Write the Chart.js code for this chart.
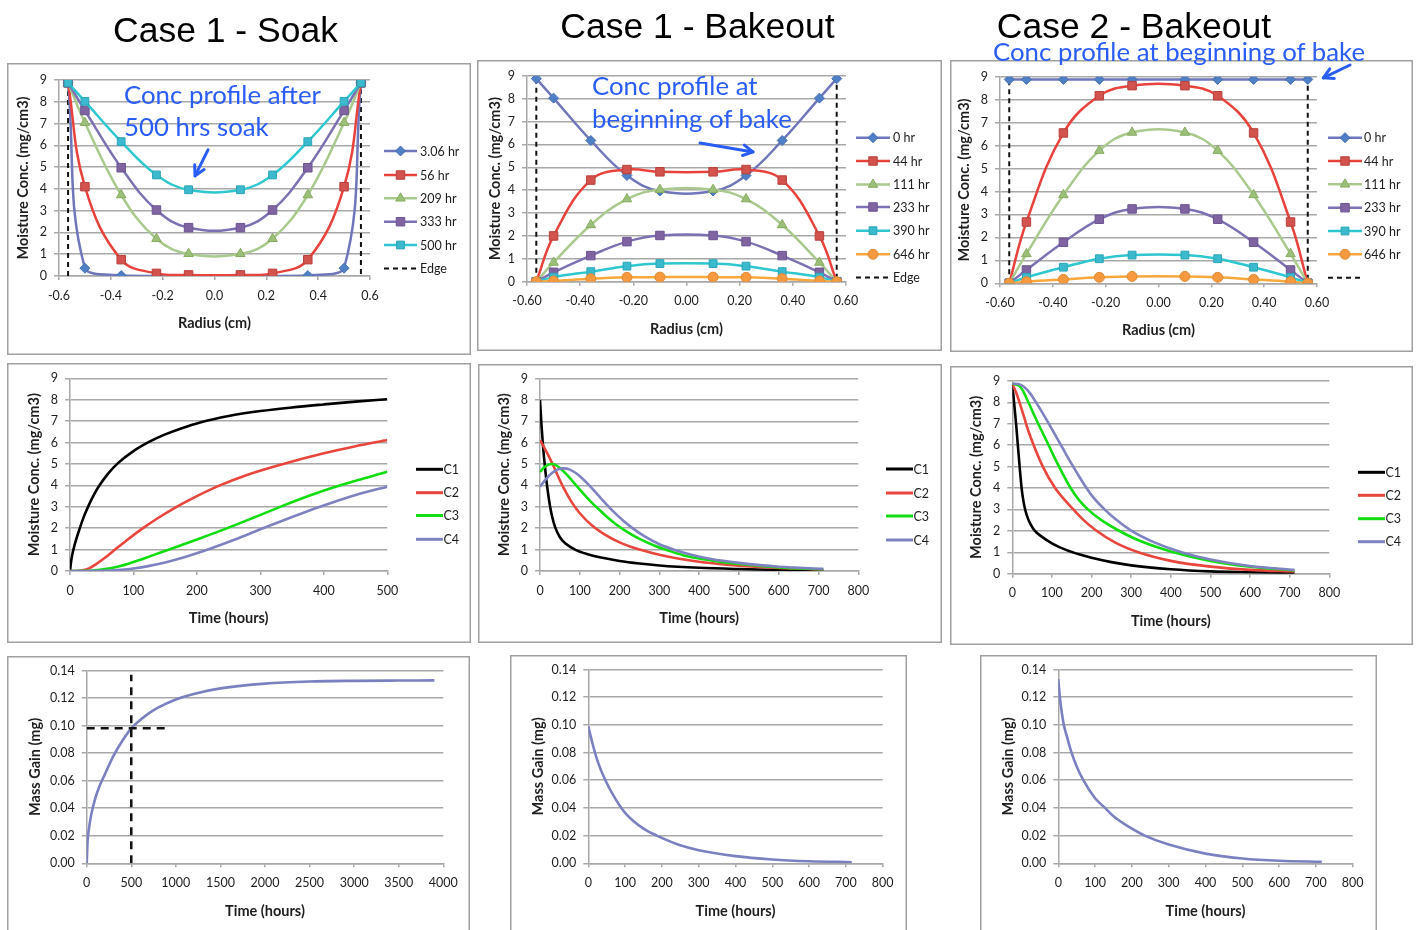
<!DOCTYPE html>
<html>
<head>
<meta charset="utf-8">
<script src="https://cdn.jsdelivr.net/npm/chart.js@4.4.1/dist/chart.umd.min.js"></script>
<style>
  html, body { margin: 0; padding: 0; background: #fff; width: 1417px; height: 930px; overflow: hidden; position: relative; }
  canvas { position: absolute; }
  svg.overlay { position: absolute; left: 0; top: 0; z-index: 5; pointer-events: none; }
</style>
</head>
<body>
<div id="panels"></div>
<svg class="overlay" width="1417" height="930">
  <g font-family="'Liberation Sans', Arial, sans-serif" font-size="35.5" fill="#000" text-anchor="middle">
    <text x="225.5" y="41.5">Case 1 - Soak</text>
    <text x="697.5" y="37.5">Case 1 - Bakeout</text>
    <text x="1134" y="37.5">Case 2 - Bakeout</text>
  </g>
  <g font-family="Lato, 'Open Sans', sans-serif" font-size="25.8" fill="#2a5cf6">
    <text x="124" y="103.5">Conc profile after</text>
    <text x="124" y="136">500 hrs soak</text>
    <text x="592" y="95">Conc profile at</text>
    <text x="592" y="128">beginning of bake</text>
    <text x="993" y="61">Conc profile at beginning of bake</text>
  </g>
</svg>
<script>
// ---------- radial profiles (moisture conc. vs radius) ----------
const RADIUS_NODES = [-0.565, -0.5, -0.36, -0.224, -0.1, 0.1, 0.224, 0.36, 0.5, 0.565];
const EDGE_RADIUS = 0.565;
const EDGE_TOP = 9;

const SOAK_LABELS = ['3.06 hr', '56 hr', '209 hr', '333 hr', '500 hr'];
const soak_3_06 = [8.87, 0.36, 0.02, 0.0, 0.0, 0.0, 0.0, 0.02, 0.36, 8.87];
const soak_56   = [8.87, 4.10, 0.75, 0.12, 0.05, 0.05, 0.12, 0.75, 4.10, 8.87];
const soak_209  = [8.87, 7.04, 3.72, 1.71, 1.02, 1.02, 1.71, 3.72, 7.04, 8.87];
const soak_333  = [8.87, 7.60, 4.97, 3.03, 2.22, 2.22, 3.03, 4.97, 7.60, 8.87];
const soak_500  = [8.87, 8.02, 6.17, 4.64, 3.96, 3.96, 4.64, 6.17, 8.02, 8.87];

const BAKE_LABELS = ['0 hr', '44 hr', '111 hr', '233 hr', '390 hr', '646 hr'];
const bake1_0   = [8.87, 8.02, 6.17, 4.64, 3.96, 3.96, 4.64, 6.17, 8.02, 8.87];
const bake1_44  = [0, 2.00, 4.44, 4.90, 4.80, 4.80, 4.90, 4.44, 2.00, 0];
const bake1_111 = [0, 0.84, 2.48, 3.61, 4.02, 4.02, 3.61, 2.48, 0.84, 0];
const bake1_233 = [0, 0.41, 1.14, 1.75, 2.02, 2.02, 1.75, 1.14, 0.41, 0];
const bake1_390 = [0, 0.20, 0.44, 0.68, 0.79, 0.79, 0.68, 0.44, 0.20, 0];
const bake1_646 = [0, 0.03, 0.13, 0.19, 0.20, 0.20, 0.19, 0.13, 0.03, 0];

const bake2_0   = [8.88, 8.88, 8.88, 8.88, 8.88, 8.88, 8.88, 8.88, 8.88, 8.88];
const bake2_44  = [0, 2.67, 6.55, 8.17, 8.61, 8.61, 8.17, 6.55, 2.67, 0];
const bake2_111 = [0, 1.28, 3.85, 5.78, 6.57, 6.57, 5.78, 3.85, 1.28, 0];
const bake2_233 = [0, 0.58, 1.79, 2.79, 3.24, 3.24, 2.79, 1.79, 0.58, 0];
const bake2_390 = [0, 0.26, 0.70, 1.07, 1.23, 1.23, 1.07, 0.70, 0.26, 0];
const bake2_646 = [0, 0.07, 0.17, 0.26, 0.30, 0.30, 0.26, 0.17, 0.07, 0];

// ---------- conc. histories at C1..C4 ----------
const NODE_LABELS = ['C1', 'C2', 'C3', 'C4'];
const soakC1_t = [0, 2, 5, 10, 16, 22, 30, 38, 46, 60, 76, 100, 126, 150, 175, 205, 250, 300, 350, 400, 450, 500];
const soakC1   = [0, 0.5, 0.95, 1.5, 2.05, 2.55, 3.1, 3.58, 3.98, 4.55, 5.05, 5.6, 6.05, 6.38, 6.66, 6.94, 7.24, 7.47, 7.64, 7.78, 7.91, 8.02];
const soakC2_t = [0, 10, 20, 30, 40, 55, 71, 90, 115, 140, 168, 200, 236, 280, 336, 400, 450, 500];
const soakC2   = [0, 0, 0.03, 0.12, 0.3, 0.62, 1.0, 1.45, 2.0, 2.5, 3.0, 3.5, 4.0, 4.5, 5.0, 5.5, 5.83, 6.12];
const soakC3_t = [0, 25, 50, 75, 100, 130, 163, 200, 252, 290, 333, 380, 431, 500];
const soakC3   = [0, 0.005, 0.07, 0.2, 0.42, 0.73, 1.07, 1.47, 2.05, 2.5, 3.02, 3.55, 4.05, 4.63];
const soakC4_t = [0, 50, 75, 100, 125, 150, 180, 215, 260, 302, 350, 394, 450, 500];
const soakC4   = [0, 0.01, 0.04, 0.12, 0.24, 0.4, 0.64, 0.98, 1.47, 1.97, 2.52, 3.0, 3.55, 3.94];

const bake1C1_t = [0, 4, 8, 12.6, 18, 25, 31, 38, 50, 65, 88, 120, 150, 200, 250, 300, 400, 500, 600, 712];
const bake1C1   = [8.0, 6.75, 5.75, 4.85, 3.95, 3.05, 2.5, 2.05, 1.58, 1.27, 1.0, 0.78, 0.64, 0.47, 0.35, 0.26, 0.15, 0.09, 0.05, 0.03];
const bake1C2_t = [0, 10, 20, 35, 45, 60, 80, 100, 130, 160, 200, 250, 300, 350, 400, 450, 500, 600, 712];
const bake1C2   = [6.12, 5.79, 5.44, 4.86, 4.44, 3.86, 3.21, 2.70, 2.14, 1.74, 1.34, 1.0, 0.76, 0.57, 0.43, 0.33, 0.25, 0.14, 0.07];
const bake1C3_t = [0, 10, 20, 30, 40, 50, 65, 80, 92, 110, 130, 147, 170, 190, 213, 250, 290, 322, 360, 400, 450, 500, 600, 712];
const bake1C3   = [4.63, 4.84, 4.96, 5.0, 4.95, 4.82, 4.55, 4.24, 3.98, 3.6, 3.2, 2.9, 2.5, 2.2, 1.9, 1.5, 1.17, 0.96, 0.74, 0.58, 0.44, 0.33, 0.17, 0.08];
const bake1C4_t = [0, 15, 30, 45, 60, 75, 90, 105, 125, 145, 167, 190, 210, 230, 260, 300, 339, 380, 430, 500, 600, 712];
const bake1C4   = [3.94, 4.3, 4.58, 4.75, 4.8, 4.74, 4.58, 4.35, 3.98, 3.57, 3.12, 2.68, 2.34, 2.04, 1.65, 1.25, 0.98, 0.76, 0.56, 0.38, 0.2, 0.1];

const bake2C1_t = [0, 5, 10, 18.5, 23.5, 28, 33, 40, 48, 57, 75, 100, 137, 175, 200, 250, 300, 400, 500, 600, 712];
const bake2C1   = [8.87, 7.9, 6.9, 5.0, 4.0, 3.4, 2.95, 2.55, 2.25, 2.0, 1.72, 1.42, 1.1, 0.87, 0.74, 0.54, 0.39, 0.21, 0.11, 0.07, 0.04];
const bake2C2_t = [0, 10, 20, 30, 40, 55, 77, 108, 154, 180, 209, 260, 318, 400, 500, 600, 712];
const bake2C2   = [8.87, 8.45, 7.9, 7.3, 6.7, 5.95, 5.0, 4.0, 3.0, 2.5, 2.05, 1.45, 1.0, 0.6, 0.33, 0.18, 0.1];
const bake2C3_t = [0, 15, 25, 40, 53, 66, 80, 93, 105, 118, 132, 147, 168, 192, 225, 267, 320, 402, 500, 600, 712];
const bake2C3   = [8.87, 8.8, 8.6, 8.03, 7.5, 6.98, 6.45, 5.95, 5.48, 5.0, 4.5, 4.0, 3.45, 2.98, 2.5, 2.03, 1.55, 1.03, 0.6, 0.33, 0.15];
const bake2C4_t = [0, 15, 30, 45, 60, 75, 95, 120, 135, 150, 166, 183, 205, 234, 265, 301, 360, 427, 500, 600, 712];
const bake2C4   = [8.87, 8.86, 8.72, 8.42, 8.0, 7.55, 6.92, 6.1, 5.6, 5.12, 4.62, 4.12, 3.55, 2.98, 2.48, 2.0, 1.45, 1.0, 0.66, 0.36, 0.18];

// ---------- mass gain ----------
const massSoak_t = [0, 10, 25, 50, 100, 150, 200, 300, 400, 500, 600, 700, 800, 1000, 1200, 1500, 2000, 2500, 3000, 3500, 3900];
const massSoak   = [0, 0.016, 0.025, 0.035, 0.048, 0.057, 0.064, 0.078, 0.089, 0.098, 0.104, 0.109, 0.113, 0.119, 0.123, 0.127, 0.1305, 0.132, 0.1325, 0.1327, 0.1328];
const MARK_TIME = 500;
const MARK_GAIN = 0.098;
const MARK_TIME_END = 900;
const MARK_GAIN_TOP = 0.137;
const massBake1_t = [0, 10, 25, 50, 75, 100, 150, 186, 250, 300, 400, 500, 600, 716];
const massBake1   = [0.099, 0.088, 0.074, 0.058, 0.046, 0.0365, 0.025, 0.02, 0.013, 0.0095, 0.0052, 0.0028, 0.0015, 0.0008];
const massBake2_t = [0, 5, 10, 15, 25, 36, 50, 68, 100, 127, 150, 200, 235, 300, 400, 500, 600, 716];
const massBake2   = [0.133, 0.118, 0.108, 0.1, 0.09, 0.08, 0.07, 0.06, 0.047, 0.04, 0.034, 0.025, 0.02, 0.0135, 0.007, 0.0035, 0.0018, 0.0011];

// ---------- styling ----------
const FONT = "Lato, 'Open Sans', sans-serif";
const GRID = '#a8a8a8';
const TXT = '#1e1e1e';
const FRAME = '#a0a0a0';

const PROFILE_STYLES = [
  { line: '#6f76b9', fill: '#4f80c6', edge: '#4870b2', shape: 'rectRot', r: 5 },
  { line: '#e8423c', fill: '#d2524d', edge: '#b8413d', shape: 'rect', r: 6 },
  { line: '#a9c98d', fill: '#9cc079', edge: '#87ab5f', shape: 'triangle', r: 5.5 },
  { line: '#7d71b3', fill: '#8064a2', edge: '#6b5592', shape: 'rect', r: 6 },
  { line: '#2ec6cf', fill: '#3bbacd', edge: '#2aa5b8', shape: 'rect', r: 5.5 },
  { line: '#f8a83a', fill: '#f7993f', edge: '#e08a35', shape: 'circle', r: 5 }
];
const NODE_COLORS = ['#000000', '#e8453c', '#11dd11', '#7f82c0'];
const MASS_COLOR = '#7b80c0';

function pts(xs, ys) { return xs.map((x, i) => ({ x: x, y: ys[i] })); }
function fmt(dec) {
  return function (v) { if (Math.abs(v) < 1e-9) v = 0; return Number(v).toFixed(dec); };
}

function profileSet(labels, series) {
  const n = series.length;
  return series.map((vals, i) => {
    const st = PROFILE_STYLES[i];
    return {
      label: labels[i], data: pts(RADIUS_NODES, vals),
      borderColor: st.line, borderWidth: 2.5, tension: 0.4,
      pointStyle: st.shape, pointRadius: st.r,
      pointBackgroundColor: st.fill, pointBorderColor: st.edge, pointBorderWidth: 1,
      order: n - i + 1
    };
  });
}
function edgeSet(label) {
  return {
    label: label,
    data: [{ x: -EDGE_RADIUS, y: 0 }, { x: -EDGE_RADIUS, y: EDGE_TOP }, { x: 0, y: null },
           { x: EDGE_RADIUS, y: EDGE_TOP }, { x: EDGE_RADIUS, y: 0 }],
    borderColor: '#111', borderWidth: 2, borderDash: [5, 4], pointRadius: 0, tension: 0,
    spanGaps: false, order: 20
  };
}
function nodeSets(series) {
  return series.map((s, i) => ({
    label: NODE_LABELS[i], data: pts(s[0], s[1]),
    borderColor: NODE_COLORS[i], borderWidth: 2.6, pointRadius: 0,
    cubicInterpolationMode: 'monotone', order: 10 - i
  }));
}
function massSet(ts, vs) {
  return { label: '', legend: false, data: pts(ts, vs), borderColor: MASS_COLOR, borderWidth: 2.6,
           pointRadius: 0, cubicInterpolationMode: 'monotone', order: 1 };
}

// marker drawing for the legend keys (same geometry as the library's point styles)
function drawMarker(ctx, style, x, y, r, fill, stroke, bw) {
  ctx.save();
  ctx.beginPath();
  if (style === 'circle') {
    ctx.arc(x, y, r, 0, Math.PI * 2);
  } else if (style === 'rect') {
    const s = r * Math.SQRT1_2;
    ctx.rect(x - s, y - s, 2 * s, 2 * s);
  } else if (style === 'rectRot') {
    ctx.moveTo(x - r, y); ctx.lineTo(x, y - r); ctx.lineTo(x + r, y); ctx.lineTo(x, y + r); ctx.closePath();
  } else if (style === 'triangle') {
    let a = 0;
    ctx.moveTo(x + Math.sin(a) * r, y - Math.cos(a) * r);
    a += Math.PI * 2 / 3; ctx.lineTo(x + Math.sin(a) * r, y - Math.cos(a) * r);
    a += Math.PI * 2 / 3; ctx.lineTo(x + Math.sin(a) * r, y - Math.cos(a) * r);
    ctx.closePath();
  }
  ctx.fillStyle = fill; ctx.fill();
  if (bw) { ctx.lineWidth = bw; ctx.strokeStyle = stroke; ctx.stroke(); }
  ctx.restore();
}

const decoPlugin = {
  id: 'deco',
  afterDraw(chart, args, opts) {
    const ctx = chart.ctx;
    ctx.save();
    // panel frame
    ctx.strokeStyle = FRAME; ctx.lineWidth = 1.5;
    ctx.strokeRect(0.75, 0.75, chart.width - 1.5, chart.height - 1.5);
    // legend keys
    const lg = opts.legend;
    if (lg) {
      let row = 0;
      chart.data.datasets.forEach(ds => {
        if (ds.legend === false) return;
        const y = lg.ys[row++] - opts.oy;
        const x1 = lg.x1 - opts.ox, x2 = lg.x2 - opts.ox;
        ctx.save();
        ctx.strokeStyle = ds.borderColor; ctx.lineWidth = lg.lw || ds.borderWidth;
        ctx.setLineDash(ds.borderDash || []);
        ctx.beginPath(); ctx.moveTo(x1, y); ctx.lineTo(x2, y); ctx.stroke();
        ctx.restore();
        if (ds.pointRadius > 0) {
          drawMarker(ctx, ds.pointStyle, (x1 + x2) / 2, y, ds.pointRadius,
                     ds.pointBackgroundColor, ds.pointBorderColor, ds.pointBorderWidth);
        }
        if (ds.label) {
          ctx.fillStyle = TXT; ctx.font = '12.5px ' + FONT; ctx.textBaseline = 'middle'; ctx.textAlign = 'left';
          ctx.fillText(ds.label, lg.tx - opts.ox, y + 0.5);
        }
      });
    }
    // pointer arrows, placed in data space
    (opts.arrows || []).forEach(a => {
      const xs = chart.scales.x, ys = chart.scales.y;
      const x0 = xs.getPixelForValue(a.from[0]), y0 = ys.getPixelForValue(a.from[1]);
      const x1 = xs.getPixelForValue(a.to[0]), y1 = ys.getPixelForValue(a.to[1]);
      const ang = Math.atan2(y1 - y0, x1 - x0), h = 11;
      ctx.strokeStyle = '#2a5cf6'; ctx.lineWidth = 3; ctx.lineCap = 'round'; ctx.lineJoin = 'round';
      ctx.beginPath(); ctx.moveTo(x0, y0); ctx.lineTo(x1, y1); ctx.stroke();
      ctx.beginPath();
      ctx.moveTo(x1 - h * Math.cos(ang - 0.5), y1 - h * Math.sin(ang - 0.5));
      ctx.lineTo(x1, y1);
      ctx.lineTo(x1 - h * Math.cos(ang + 0.5), y1 - h * Math.sin(ang + 0.5));
      ctx.stroke();
    });
    ctx.restore();
  }
};

function panel(p) {
  const [bl, bt, br, bb] = p.box;
  const [pl, pt, pr, pb] = p.plot;
  const W = br - bl, H = bb - bt;
  const cv = document.createElement('canvas');
  cv.width = Math.round(W); cv.height = Math.round(H);
  cv.style.left = bl + 'px'; cv.style.top = bt + 'px';
  document.getElementById('panels').appendChild(cv);
  const titleSize = 14.5, lh = titleSize * 1.2;
  const tickFont = { family: FONT, size: 12.5 };
  const titleFont = { family: FONT, size: titleSize, weight: 'bold' };
  new Chart(cv.getContext('2d'), {
    type: 'line',
    data: { datasets: p.datasets },
    options: {
      responsive: false, animation: false, devicePixelRatio: 1, events: [],
      layout: { padding: { left: 0, top: pt - bt, right: br - pr, bottom: 0 } },
      plugins: {
        legend: { display: false }, tooltip: { enabled: false },
        deco: { legend: p.legend, arrows: p.arrows, ox: bl, oy: bt }
      },
      scales: {
        x: {
          type: 'linear', position: 'bottom', min: p.x.min, max: p.x.max,
          ticks: { stepSize: p.x.step, autoSkip: false, maxRotation: 0, padding: 8, font: tickFont, color: TXT, callback: fmt(p.x.dec) },
          grid: { drawOnChartArea: false, drawTicks: true, tickLength: 4, tickColor: GRID, lineWidth: 1.5 },
          border: { display: true, color: GRID, width: 1.5 },
          title: { display: true, text: p.xTitle, font: titleFont, color: TXT,
                   padding: { top: 0, bottom: (bb - p.xTitleY) - lh / 2 } },
          afterFit: s => { s.height = bb - pb; }
        },
        y: {
          type: 'linear', position: 'left', min: p.y.min, max: p.y.max,
          ticks: { stepSize: p.y.step, padding: 7, font: tickFont, color: TXT, callback: fmt(p.y.dec) },
          grid: { color: GRID, lineWidth: 1.5, drawTicks: true, tickLength: 5, tickColor: GRID },
          border: { display: true, color: GRID, width: 1.5 },
          title: { display: true, text: p.yTitle, font: titleFont, color: TXT,
                   padding: { top: (p.yTitleX - bl) - lh / 2, bottom: 0 } },
          afterFit: s => { s.width = pl - bl; }
        }
      }
    },
    plugins: [decoPlugin]
  });
}

const CONC_TITLE = 'Moisture Conc. (mg/cm3)';
const MASS_TITLE = 'Mass Gain (mg)';
const RADIUS_TITLE = 'Radius (cm)';
const TIME_TITLE = 'Time (hours)';

// Row 1: radial profiles
panel({
  box: [7, 63, 471, 355], plot: [59, 80, 370, 276], xTitleY: 323, yTitleX: 23,
  xTitle: RADIUS_TITLE, yTitle: CONC_TITLE,
  x: { min: -0.6, max: 0.6, step: 0.2, dec: 1 }, y: { min: 0, max: 9, step: 1, dec: 0 },
  datasets: profileSet(SOAK_LABELS, [soak_3_06, soak_56, soak_209, soak_333, soak_500]).concat([edgeSet('Edge')]),
  legend: { x1: 384, x2: 417, tx: 420, ys: [151, 175, 198.3, 221.7, 245, 268.5] },
  arrows: [{ from: [-0.025, 5.79], to: [-0.075, 4.6] }]
});
panel({
  box: [477, 60, 942, 351], plot: [527, 75.7, 846, 281.7], xTitleY: 329, yTitleX: 495,
  xTitle: RADIUS_TITLE, yTitle: CONC_TITLE,
  x: { min: -0.6, max: 0.6, step: 0.2, dec: 2 }, y: { min: 0, max: 9, step: 1, dec: 0 },
  datasets: profileSet(BAKE_LABELS, [bake1_0, bake1_44, bake1_111, bake1_233, bake1_390, bake1_646]).concat([edgeSet('Edge')]),
  legend: { x1: 856, x2: 890, tx: 893, ys: [137.7, 161, 184.5, 207, 230.7, 254.3, 277.5] },
  arrows: [{ from: [0.051, 6.06], to: [0.25, 5.67] }]
});
panel({
  box: [950, 60, 1413, 352], plot: [1000, 76.7, 1317, 283.3], xTitleY: 330, yTitleX: 964.3,
  xTitle: RADIUS_TITLE, yTitle: CONC_TITLE,
  x: { min: -0.6, max: 0.6, step: 0.2, dec: 2 }, y: { min: 0, max: 9, step: 1, dec: 0 },
  datasets: profileSet(BAKE_LABELS, [bake2_0, bake2_44, bake2_111, bake2_233, bake2_390, bake2_646]).concat([edgeSet('')]),
  legend: { x1: 1328, x2: 1362, tx: 1364, ys: [137.7, 161, 184.3, 207.7, 231, 254.3, 277.7] },
  arrows: [{ from: [0.725, 9.51], to: [0.624, 8.95] }]
});

// Row 2: concentration histories
panel({
  box: [7, 363, 471, 643], plot: [70, 378.3, 387.3, 571], xTitleY: 618.7, yTitleX: 34.3,
  xTitle: TIME_TITLE, yTitle: CONC_TITLE,
  x: { min: 0, max: 500, step: 100, dec: 0 }, y: { min: 0, max: 9, step: 1, dec: 0 },
  datasets: nodeSets([[soakC1_t, soakC1], [soakC2_t, soakC2], [soakC3_t, soakC3], [soakC4_t, soakC4]]),
  legend: { x1: 416, x2: 443, tx: 443.5, lw: 3, ys: [469.3, 492.7, 515.5, 539.3] }
});
panel({
  box: [478, 364, 942, 643], plot: [540, 378.3, 858.3, 571], xTitleY: 618.7, yTitleX: 504.3,
  xTitle: TIME_TITLE, yTitle: CONC_TITLE,
  x: { min: 0, max: 800, step: 100, dec: 0 }, y: { min: 0, max: 9, step: 1, dec: 0 },
  datasets: nodeSets([[bake1C1_t, bake1C1], [bake1C2_t, bake1C2], [bake1C3_t, bake1C3], [bake1C4_t, bake1C4]]),
  legend: { x1: 886, x2: 913, tx: 913.5, lw: 3, ys: [469, 493, 516, 540] }
});
panel({
  box: [950, 366, 1413, 645], plot: [1012.3, 381, 1329.3, 573.7], xTitleY: 621.7, yTitleX: 976.7,
  xTitle: TIME_TITLE, yTitle: CONC_TITLE,
  x: { min: 0, max: 800, step: 100, dec: 0 }, y: { min: 0, max: 9, step: 1, dec: 0 },
  datasets: nodeSets([[bake2C1_t, bake2C1], [bake2C2_t, bake2C2], [bake2C3_t, bake2C3], [bake2C4_t, bake2C4]]),
  legend: { x1: 1358, x2: 1385, tx: 1385.5, lw: 3, ys: [472.3, 495.3, 518.7, 541.7] }
});

// Row 3: mass gain
panel({
  box: [7, 656, 470, 945], plot: [86.7, 669, 443.3, 863.3], xTitleY: 911.7, yTitleX: 35,
  xTitle: TIME_TITLE, yTitle: MASS_TITLE,
  x: { min: 0, max: 4000, step: 500, dec: 0 }, y: { min: 0, max: 0.14, step: 0.02, dec: 2 },
  datasets: [
    massSet(massSoak_t, massSoak),
    { label: '', legend: false, data: [{ x: MARK_TIME, y: 0 }, { x: MARK_TIME, y: MARK_GAIN_TOP }],
      borderColor: '#111', borderWidth: 2.5, borderDash: [8, 6], pointRadius: 0, tension: 0, order: 0 },
    { label: '', legend: false, data: [{ x: 0, y: MARK_GAIN }, { x: MARK_TIME_END, y: MARK_GAIN }],
      borderColor: '#111', borderWidth: 2.5, borderDash: [8, 6], pointRadius: 0, tension: 0, order: 0 }
  ]
});
panel({
  box: [510, 655, 907, 945], plot: [588.3, 669, 882.7, 863.3], xTitleY: 911.7, yTitleX: 538.3,
  xTitle: TIME_TITLE, yTitle: MASS_TITLE,
  x: { min: 0, max: 800, step: 100, dec: 0 }, y: { min: 0, max: 0.14, step: 0.02, dec: 2 },
  datasets: [massSet(massBake1_t, massBake1)]
});
panel({
  box: [980, 655, 1377, 945], plot: [1058.3, 669, 1352.7, 863.3], xTitleY: 911.7, yTitleX: 1008.3,
  xTitle: TIME_TITLE, yTitle: MASS_TITLE,
  x: { min: 0, max: 800, step: 100, dec: 0 }, y: { min: 0, max: 0.14, step: 0.02, dec: 2 },
  datasets: [massSet(massBake2_t, massBake2)]
});
</script>
</body>
</html>
